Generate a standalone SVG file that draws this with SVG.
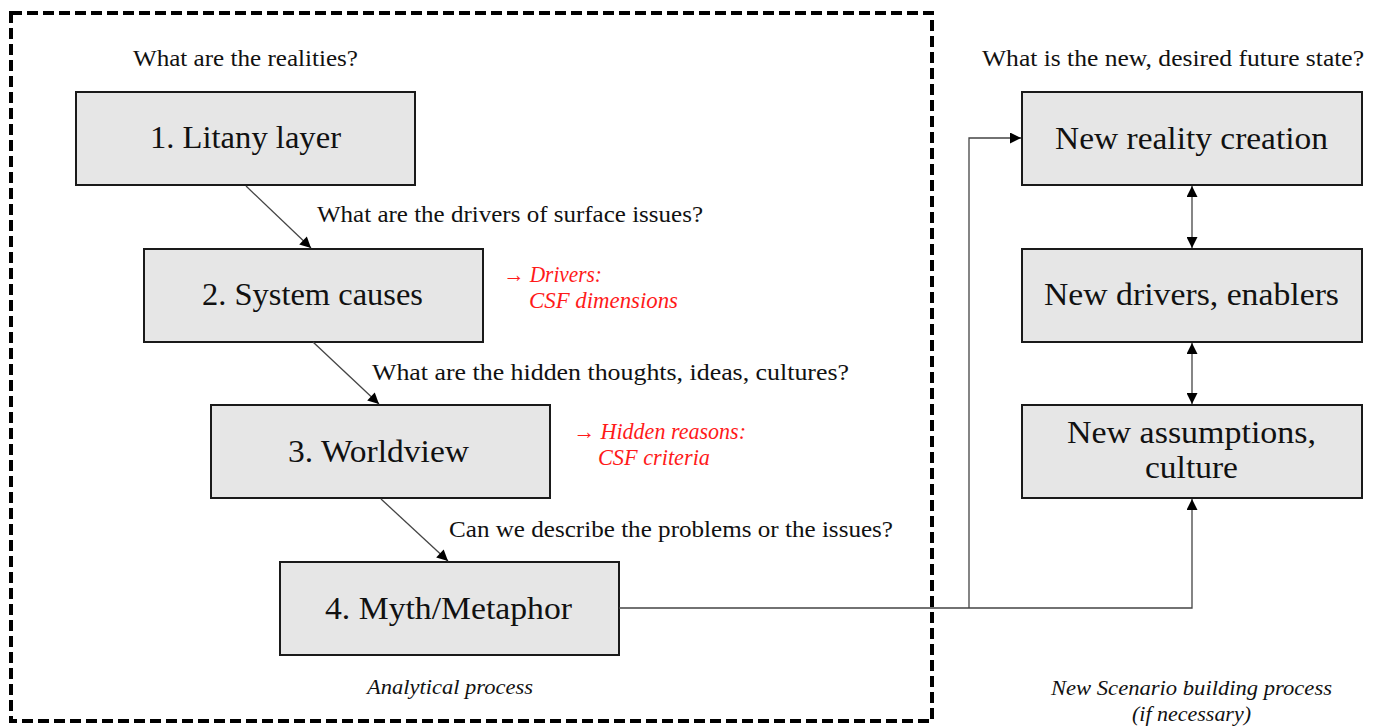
<svg xmlns="http://www.w3.org/2000/svg" width="1379" height="727" viewBox="0 0 1379 727">
<style>
.bg{fill:#ffffff}
.frame{fill:none;stroke:#000;stroke-width:4;stroke-dasharray:11 5}
.box{fill:#e6e6e6;stroke:#1a1a1a;stroke-width:2}
.bt{font-family:"Liberation Serif","Times New Roman",serif;font-size:31px;fill:#111;text-anchor:start}
.q{font-family:"Liberation Serif","Times New Roman",serif;font-size:23px;fill:#111}
.red{font-family:"Liberation Serif","Times New Roman",serif;font-size:23px;font-style:italic;fill:#ff1a1a}
.cap{font-family:"Liberation Serif","Times New Roman",serif;font-size:22px;font-style:italic;fill:#111}
.con{fill:none;stroke:#444;stroke-width:1.3}
</style>
<defs>
<marker id="ah" viewBox="0 0 10 10" refX="10" refY="5" markerWidth="13" markerHeight="11" markerUnits="userSpaceOnUse" orient="auto-start-reverse">
<path d="M0,0 L10,5 L0,10 z" fill="#000"/>
</marker>
</defs>
<rect class="bg" x="0" y="0" width="1379" height="727"/>
<rect class="frame" x="11" y="13" width="921" height="708"/>

<g id="labels">
<text class="q" x="133" y="66" textLength="225" lengthAdjust="spacingAndGlyphs">What are the realities?</text>
<text class="q" x="317" y="222" textLength="386" lengthAdjust="spacingAndGlyphs">What are the drivers of surface issues?</text>
<text class="q" x="372" y="380" textLength="477" lengthAdjust="spacingAndGlyphs">What are the hidden thoughts, ideas, cultures?</text>
<text class="q" x="449" y="537" textLength="444" lengthAdjust="spacingAndGlyphs">Can we describe the problems or the issues?</text>
<text class="q" x="982" y="66" textLength="382" lengthAdjust="spacingAndGlyphs">What is the new, desired future state?</text>
<text class="red" x="503" y="282" textLength="99" lengthAdjust="spacingAndGlyphs"><tspan font-style="normal">→</tspan> Drivers:</text>
<text class="red" x="529" y="308" textLength="149" lengthAdjust="spacingAndGlyphs">CSF dimensions</text>
<text class="red" x="573" y="439" textLength="173" lengthAdjust="spacingAndGlyphs"><tspan font-style="normal">→</tspan> Hidden reasons:</text>
<text class="red" x="598" y="465" textLength="112" lengthAdjust="spacingAndGlyphs">CSF criteria</text>
<text class="cap" x="367" y="694" textLength="166" lengthAdjust="spacingAndGlyphs">Analytical process</text>
<text class="cap" x="1051" y="695" textLength="281" lengthAdjust="spacingAndGlyphs">New Scenario building process</text>
<text class="cap" x="1132" y="721" textLength="119" lengthAdjust="spacingAndGlyphs">(if necessary)</text>
</g>

<g id="n1"><rect class="box" x="76" y="92" width="339" height="93"/><text class="bt" x="150" y="148" textLength="191" lengthAdjust="spacingAndGlyphs">1. Litany layer</text></g>
<g id="n2"><rect class="box" x="144" y="249" width="339" height="93"/><text class="bt" x="202" y="305" textLength="221" lengthAdjust="spacingAndGlyphs">2. System causes</text></g>
<g id="n3"><rect class="box" x="211" y="405" width="339" height="93"/><text class="bt" x="288" y="462" textLength="181" lengthAdjust="spacingAndGlyphs">3. Worldview</text></g>
<g id="n4"><rect class="box" x="280" y="562" width="339" height="93"/><text class="bt" x="325" y="619" textLength="247" lengthAdjust="spacingAndGlyphs">4. Myth/Metaphor</text></g>
<g id="r1"><rect class="box" x="1022" y="92" width="340" height="93"/><text class="bt" x="1055" y="149" textLength="273" lengthAdjust="spacingAndGlyphs">New reality creation</text></g>
<g id="r2"><rect class="box" x="1022" y="249" width="340" height="93"/><text class="bt" x="1044" y="305" textLength="295" lengthAdjust="spacingAndGlyphs">New drivers, enablers</text></g>
<g id="r3"><rect class="box" x="1022" y="405" width="340" height="93"/><text class="bt" x="1067" y="443" textLength="249" lengthAdjust="spacingAndGlyphs">New assumptions,</text><text class="bt" x="1145" y="478" textLength="93" lengthAdjust="spacingAndGlyphs">culture</text></g>

<g id="connectors">
<line class="con" x1="246" y1="186" x2="311" y2="248" marker-end="url(#ah)"/>
<line class="con" x1="313" y1="342" x2="379" y2="404" marker-end="url(#ah)"/>
<line class="con" x1="381" y1="499" x2="448" y2="561" marker-end="url(#ah)"/>
<polyline class="con" points="619,608 1192,608 1192,499" marker-end="url(#ah)"/>
<polyline class="con" points="969,608 969,138 1021,138" marker-end="url(#ah)"/>
<line class="con" x1="1192" y1="186" x2="1192" y2="248" marker-start="url(#ah)" marker-end="url(#ah)"/>
<line class="con" x1="1192" y1="343" x2="1192" y2="404" marker-start="url(#ah)" marker-end="url(#ah)"/>
</g>
</svg>
